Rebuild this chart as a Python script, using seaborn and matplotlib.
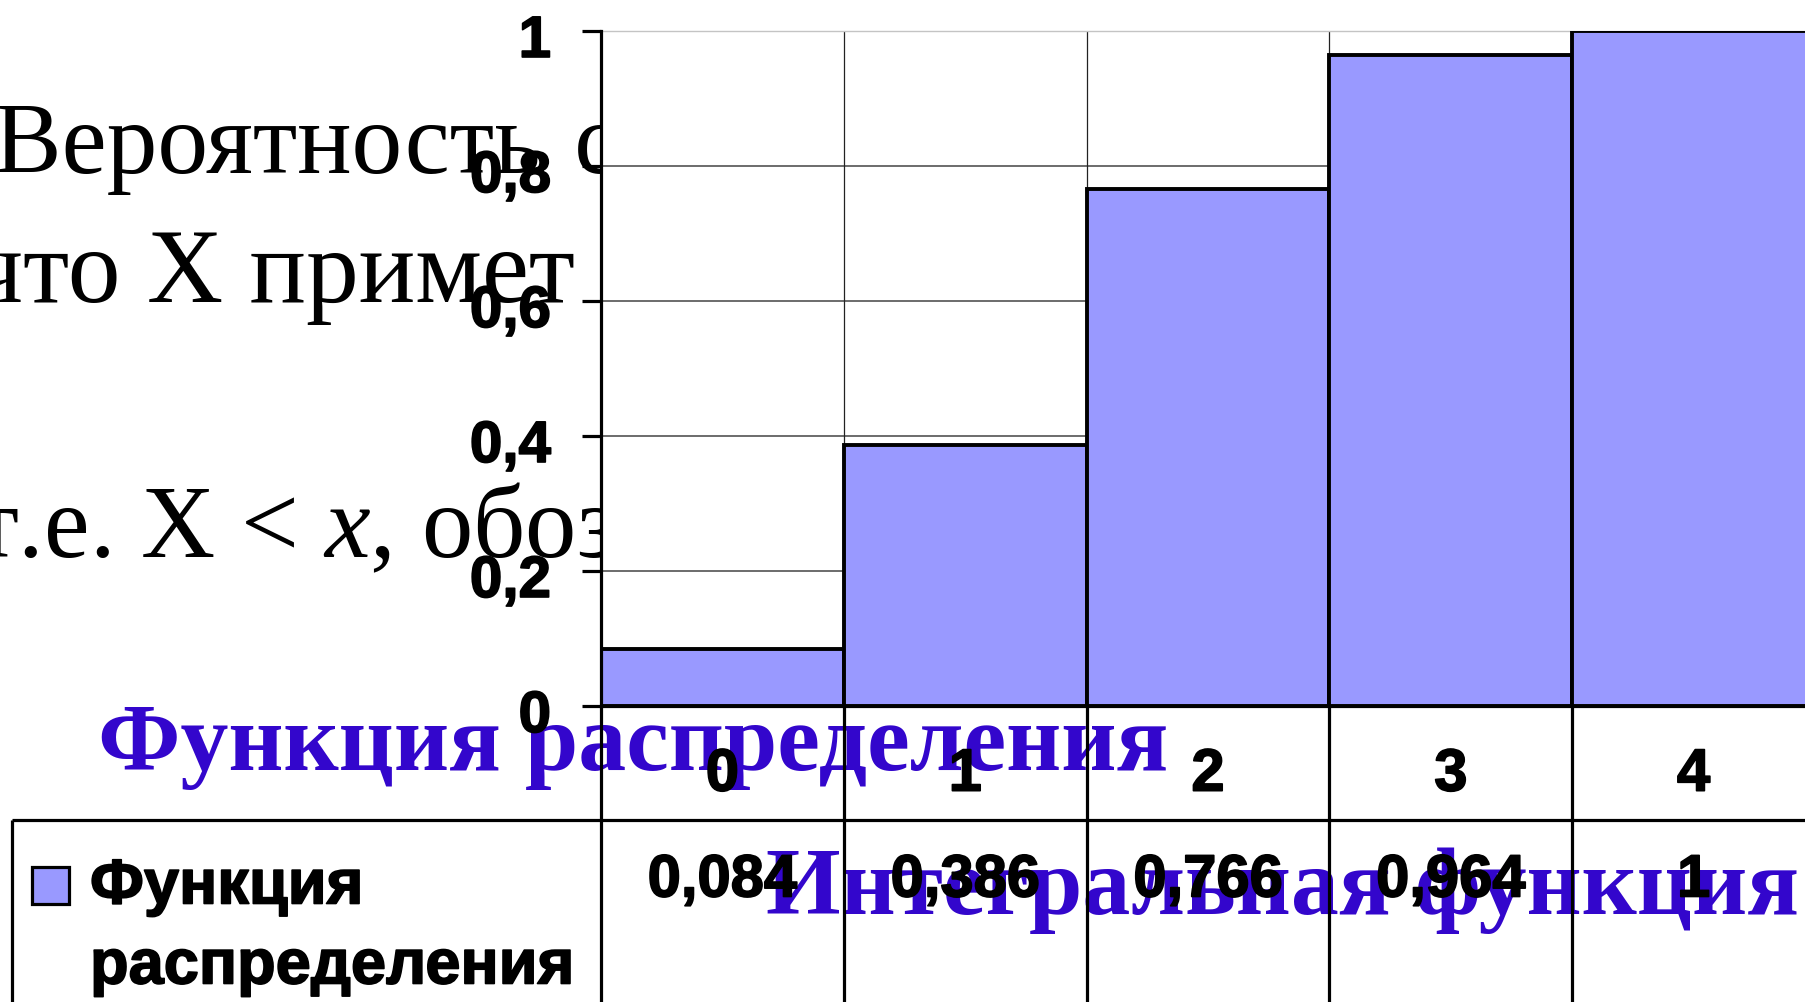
import matplotlib
matplotlib.use("Agg")
import numpy as np
import pandas as pd
import seaborn as sns
import matplotlib.pyplot as plt
import matplotlib.transforms as mtransforms
import matplotlib.patheffects as pe
from matplotlib.patches import Rectangle

# ---- data -------------------------------------------------------------
categories = ["0", "1", "2", "3", "4"]
cdf_values = [0.084, 0.386, 0.766, 0.964, 1.0]
ytick_values = [0, 0.2, 0.4, 0.6, 0.8, 1.0]
ytick_labels = ["0", "0,2", "0,4", "0,6", "0,8", "1"]
series_lines = ["Функция", "распределения"]
title_text = "Функция распределения"
subtitle_text = "Интегральная функция"
slide_line1 = "Вероятность\u2004события"
slide_line2 = "что X примет\u2002значение"
slide_line3 = "т.е. X < $x$, обозначим"


def fmt_value(v):
    return "{:g}".format(v).replace(".", ",")


value_labels = [fmt_value(v) for v in cdf_values]

# ---- style ------------------------------------------------------------
sns.set_theme(style="white")
plt.rcParams["font.family"] = ["Liberation Sans", "DejaVu Sans"]
plt.rcParams["text.color"] = "black"
plt.rcParams["xtick.color"] = "black"
plt.rcParams["ytick.color"] = "black"
plt.rcParams["axes.labelcolor"] = "black"
plt.rcParams["mathtext.fontset"] = "custom"
plt.rcParams["mathtext.rm"] = "Liberation Serif"
plt.rcParams["mathtext.it"] = "Liberation Serif:italic"

BAR_COLOR = "#9999ff"
BLUE = "#3306cc"
LW = 2.3
HEAVY = [pe.withStroke(linewidth=1.2, foreground="black")]
SERIF = ["Liberation Serif", "DejaVu Serif"]

W, H = 1806, 1002
fig = plt.figure(figsize=(W / 100, H / 100), dpi=100)
fig.patch.set_facecolor("white")

AX_L, AX_R, AX_T, AX_B = 601, 1815, 31, 706
ax = fig.add_axes([AX_L / W, 1 - AX_B / H, (AX_R - AX_L) / W, (AX_B - AX_T) / H])
ax.set_facecolor("white")


def fx(px):
    return px / W


def fy(py):
    return 1 - py / H


def axx(px):
    return (px - AX_L) / (AX_R - AX_L)


def axy(py):
    return (AX_B - py) / (AX_B - AX_T)


# ---- slide text behind the chart ---------------------------------------
serif = dict(family=SERIF, color="black", va="baseline", zorder=-2)
fig.text(fx(-6), fy(173), slide_line1, fontsize=73, **serif)
fig.text(fx(-30), fy(302), slide_line2, fontsize=76, **serif)
fig.text(fx(-27), fy(557), slide_line3, fontsize=74, **serif)

# ---- bars -------------------------------------------------------------
df = pd.DataFrame({"x": categories, "F": cdf_values})
sns.barplot(data=df, x="x", y="F", width=1.0, color=BAR_COLOR, saturation=1,
            edgecolor="black", linewidth=2.8, ax=ax, zorder=3)

n = len(categories)
ax.set_xlim(-0.5, n - 0.5)
ax.set_ylim(0, 1)

# grid
for yv in ytick_values[1:-1]:
    ax.axhline(yv, color="#444444", linewidth=1.1, zorder=1)
bounds = np.arange(n) + 0.5
ax.vlines(bounds, 0, 1, color="#222222", linewidth=0.9, zorder=1)

ax.spines["right"].set_visible(False)
ax.spines["top"].set_color("#c4c4c4")
ax.spines["top"].set_linewidth(1.0)
for side in ["left", "bottom"]:
    ax.spines[side].set_color("black")
    ax.spines[side].set_linewidth(LW)
    ax.spines[side].set_zorder(5)

# y axis
ax.set_yticks(ytick_values)
ax.set_yticklabels(ytick_labels, fontweight="bold", fontsize=42)
ax.tick_params(axis="y", direction="out", length=14, width=LW, color="black",
               pad=22, left=True)
offset = mtransforms.ScaledTranslation(0, -5 / 100, fig.dpi_scale_trans)
for lbl in ax.get_yticklabels():
    lbl.set_transform(lbl.get_transform() + offset)
    lbl.set_path_effects(HEAVY)

# x axis (category row of the data table)
ax.set_xticks(range(n))
ax.set_xticklabels(categories, fontweight="bold", fontsize=43)
ax.tick_params(axis="x", length=0, pad=30, bottom=False)
for lbl in ax.get_xticklabels():
    lbl.set_path_effects(HEAVY)
ax.set_xlabel("")
ax.set_ylabel("")

# ---- data table -------------------------------------------------------
blend = mtransforms.blended_transform_factory(ax.transData, ax.transAxes)
line_kw = dict(color="black", linewidth=LW, clip_on=False, zorder=5,
               solid_capstyle="butt")
for xb in np.arange(n + 1) - 0.5:
    ax.plot([xb, xb], [0, -0.6], transform=blend, **line_kw)

row_y = axy(820)
left_x = axx(12)
ax.plot([left_x, 1.05], [row_y, row_y], transform=ax.transAxes, **line_kw)
ax.plot([left_x, left_x], [row_y, -0.6], transform=ax.transAxes, **line_kw)

for i, lab in enumerate(value_labels):
    ax.text(i, axy(881), lab, transform=blend, ha="center", va="center",
            fontsize=43, fontweight="bold", clip_on=False, zorder=6,
            path_effects=HEAVY)

# legend key inside the table
ax.add_patch(Rectangle((axx(32), axy(904)), axx(69) - axx(32), axy(867) - axy(904),
                       transform=ax.transAxes, facecolor=BAR_COLOR,
                       edgecolor="black", linewidth=LW, clip_on=False, zorder=6))
for txt, py in zip(series_lines, [887, 967]):
    ax.text(axx(90), axy(py), txt, transform=ax.transAxes, ha="left",
            va="center", fontsize=45.5, fontweight="bold", clip_on=False, zorder=6,
            path_effects=HEAVY)

# ---- blue headings ----------------------------------------------------
blue = dict(family=SERIF, fontweight="bold", fontsize=69, color=BLUE,
            va="baseline", zorder=-1)
fig.text(fx(98), fy(770), title_text, **blue)
fig.text(fx(766), fy(914), subtitle_text, **blue)

fig.savefig("out.png", dpi=100, facecolor="white")
